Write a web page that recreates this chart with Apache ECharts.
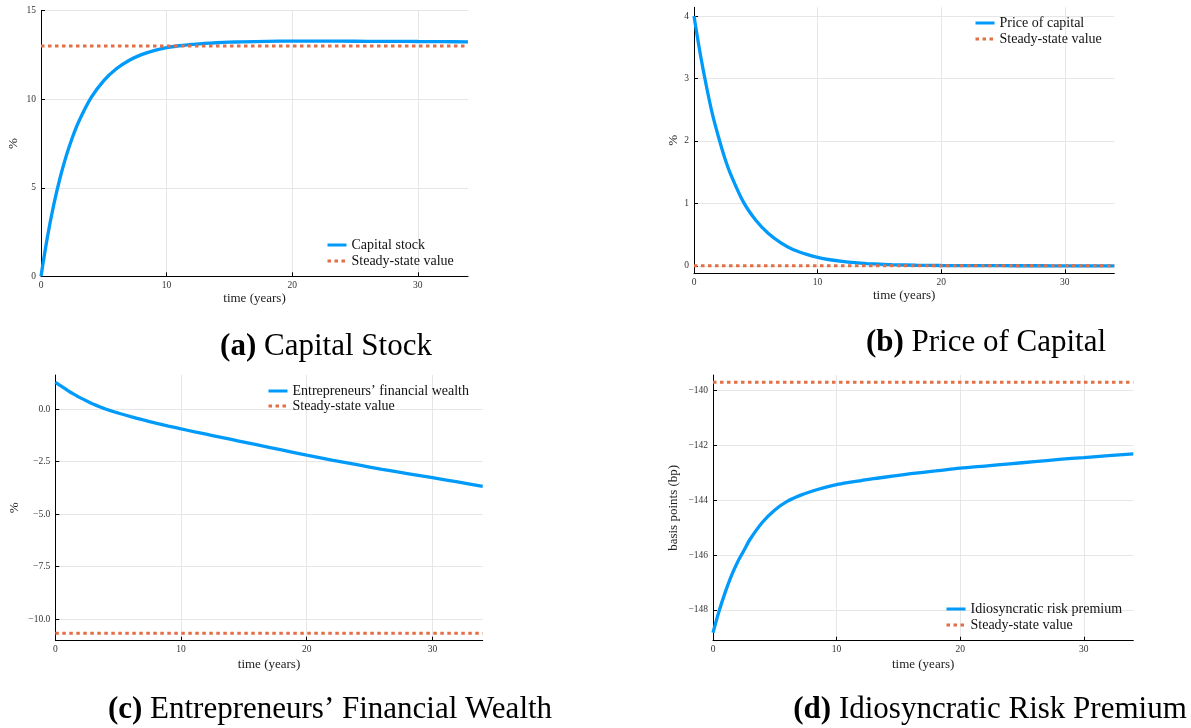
<!DOCTYPE html>
<html><head><meta charset="utf-8">
<script src="https://cdn.jsdelivr.net/npm/echarts@6/dist/echarts.min.js"></script>
<style>html,body{margin:0;padding:0;background:#fff}#chart{width:1191px;height:728px}</style>
</head><body><div id="chart"></div>
<script>
// ---- data ----
const years = [0,0.5,1,1.5,2,2.5,3,4,5,6,7,8,9,10,11,12,13,14,15,16,18,20,22,24,26,28,30,32,34];
const capitalStock = [0,2.17,3.99,5.51,6.78,7.84,8.73,10.10,11.05,11.72,12.19,12.52,12.75,12.91,13.02,13.10,13.15,13.19,13.22,13.24,13.27,13.28,13.28,13.28,13.27,13.27,13.26,13.25,13.24];
const priceOfCapital = [4.0,3.4,2.88,2.42,2.05,1.72,1.45,1.02,0.73,0.52,0.37,0.26,0.19,0.135,0.097,0.07,0.05,0.036,0.026,0.018,0.009,0.005,0.003,0.002,0.001,0.001,0,0,0];
const financialWealth = [1.27,1.08,0.88,0.70,0.53,0.38,0.24,0.0,-0.19,-0.36,-0.52,-0.67,-0.81,-0.945,-1.075,-1.2,-1.325,-1.45,-1.575,-1.7,-1.95,-2.2,-2.43,-2.65,-2.87,-3.07,-3.27,-3.47,-3.68];
const riskPremium = [-148.83,-148.03,-147.34,-146.74,-146.24,-145.83,-145.42,-144.80,-144.35,-144.04,-143.83,-143.67,-143.54,-143.43,-143.35,-143.28,-143.21,-143.15,-143.09,-143.03,-142.93,-142.83,-142.75,-142.67,-142.59,-142.51,-142.44,-142.37,-142.31];
const steadyState = [13.0, 0, -10.68, -139.69];
const seriesNames = ['Capital stock','Price of capital',"Entrepreneurs\u2019 financial wealth",'Idiosyncratic risk premium'];
const ssName = 'Steady-state value';
const yNames = ['%','%','%','basis points (bp)'];
const yTickSteps = [5, 1, 2.5, 2];
const yRanges = [[0,15],[-0.12,4.14],[-11.03,1.62],[-149.12,-139.43]];
const xRange = [0, 34];
const xTickStep = 10;
const captionLetters = ['(a)','(b)','(c)','(d)'];
const captionTexts = ['Capital Stock','Price of Capital',"Entrepreneurs\u2019 Financial Wealth",'Idiosyncratic Risk Premium'];

// ---- layout / style ----
const FONT = 'Liberation Serif';
const BLUE = '#009AFA', RED = '#E36F47';
const grids = [
  {left:41, top:10.7, width:427, height:265.6},
  {left:694, top:7.3, width:420.3, height:266},
  {left:55.3, top:375, width:427.4, height:265.7},
  {left:713, top:375, width:420.3, height:265.7}
];
const yNameGaps = [20.5, 14.2, 33.8, 32.5];
const xNameGaps = [16, 16, 17, 17];
const legendPos = [
  {left:326, top:238}, {left:974, top:16}, {left:267, top:384}, {left:945, top:602}
];
const legendGaps = [2, 2, 1, 2];
const captionPos = [
  {left:326, top:331}, {left:986, top:327}, {left:330, top:694}, {left:990, top:694}
];
const yFormatters = [
  v => String(v),
  v => String(v),
  v => (v.toFixed(1)).replace('-', '\u2212'),
  v => String(Math.round(v)).replace('-', '\u2212')
];
const curves = [capitalStock, priceOfCapital, financialWealth, riskPremium];

const xAxes = [], yAxes = [], series = [], legends = [], titles = [];
for (let i = 0; i < 4; i++) {
  xAxes.push({
    type:'value', gridIndex:i, min:xRange[0], max:xRange[1], interval:xTickStep,
    name:'time (years)', nameLocation:'middle', nameGap:xNameGaps[i],
    nameTextStyle:{fontFamily:FONT, fontSize:13, color:'#222'},
    axisLine:{onZero:false, lineStyle:{color:'#000', width:1}},
    axisTick:{inside:true, length:4, lineStyle:{color:'#000'}},
    axisLabel:{fontFamily:FONT, fontSize:9.5, color:'#333', margin:4, showMaxLabel:false},
    splitLine:{show:true, showMinLine:false, showMaxLine:false, lineStyle:{color:'#e6e6e6', width:1}}
  });
  const first = i === 0;
  const y = {
    type:'value', gridIndex:i, min:yRanges[i][0], max:yRanges[i][1],
    name:yNames[i], nameLocation:'middle', nameGap:yNameGaps[i],
    nameTextStyle:{fontFamily:FONT, fontSize:13, color:'#222'},
    axisLine:{show:true, onZero:false, lineStyle:{color:'#000', width:1}},
    axisTick:{show:true, inside:true, length:4, lineStyle:{color:'#000'}},
    axisLabel:{fontFamily:FONT, fontSize:9.5, color:'#333', margin:5, formatter:yFormatters[i],
               showMinLabel: first ? true : false, showMaxLabel: first ? true : false},
    splitLine:{show:true, showMinLine:false, showMaxLine: first, lineStyle:{color:'#e6e6e6', width:1}}
  };
  if (first) { y.interval = yTickSteps[i]; }
  else { y.minInterval = yTickSteps[i]; y.maxInterval = yTickSteps[i]; }
  yAxes.push(y);

  series.push({
    type:'line', name:seriesNames[i], xAxisIndex:i, yAxisIndex:i,
    data: years.map((t, k) => [t, curves[i][k]]),
    symbol:'none', showSymbol:false, smooth:0.3,
    lineStyle:{color:BLUE, width:3.3}, itemStyle:{color:BLUE}, z:2
  });
  series.push({
    type:'line', name:ssName, xAxisIndex:i, yAxisIndex:i,
    data: [[xRange[0], steadyState[i]], [xRange[1], steadyState[i]]],
    symbol:'none', showSymbol:false,
    lineStyle:{color:RED, width:3, type:[3.5,3.5]}, itemStyle:{color:RED}, z:3
  });
  legends.push({
    data:[seriesNames[i], ssName], orient:'vertical',
    left:legendPos[i].left, top:legendPos[i].top, padding:0,
    itemWidth:19, itemHeight:14, itemGap:legendGaps[i], selectedMode:false,
    lineStyle:{width:3},
    itemStyle:{opacity:0},
    textStyle:{fontFamily:FONT, fontSize:14, color:'#111', lineHeight:14, padding:[0,0,0,0]}
  });
  titles.push({
    text:'{b|' + captionLetters[i] + '}{n| ' + captionTexts[i] + '}',
    left:captionPos[i].left, top:captionPos[i].top, textAlign:'center', padding:0,
    textStyle:{fontFamily:FONT, fontSize:31, fontWeight:'normal', color:'#000',
      rich:{b:{fontFamily:FONT, fontSize:31, fontWeight:'bold', color:'#000'},
            n:{fontFamily:FONT, fontSize:31, fontWeight:'normal', color:'#000'}}}
  });
}

const chart = echarts.init(document.getElementById('chart'), null, {renderer:'canvas'});
chart.setOption({
  animation:false,
  backgroundColor:'#fff',
  title:titles,
  grid:grids,
  xAxis:xAxes,
  yAxis:yAxes,
  legend:legends,
  series:series
});
</script></body></html>
